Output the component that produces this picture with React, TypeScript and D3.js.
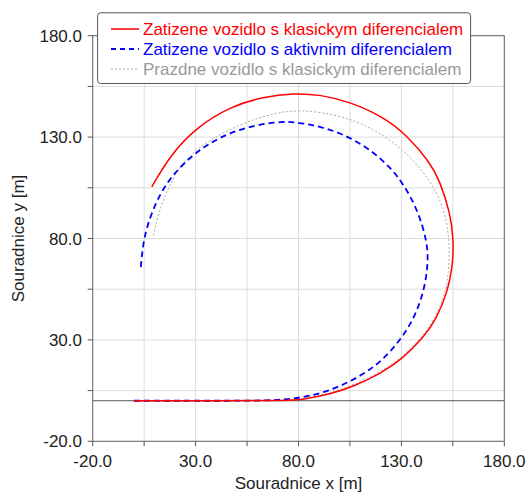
import React from "react";
import * as d3 from "d3";

const seriesNames = [
  "Zatizene vozidlo s klasickym diferencialem",
  "Zatizene vozidlo s aktivnim diferencialem",
  "Prazdne vozidlo s klasickym diferencialem",
];

// red: loaded vehicle, classic differential
const redX = [0, 40, 76, 82.3, 95.4, 106.9, 120.1, 130.4, 140.6, 146.8, 152.2, 154.9, 155.4, 153.8, 148.6, 143.7, 132.6, 121.2, 105, 90.6, 78, 62.9, 46.7, 30.7, 18.2, 8.7];
const redY = [0, 0, 0, 0.7, 3.2, 7.05, 13.55, 20.6, 31.0, 40.0, 52.9, 66.0, 79, 92.45, 108.6, 117.8, 131, 140, 147.4, 150.9, 151.7, 149.9, 145, 134.9, 121.9, 105.5];

// blue: loaded vehicle, active differential
const blueX = [0, 40, 70, 82.3, 93.7, 105, 114.7, 122.7, 131.2, 137.3, 141.5, 143.1, 142.3, 137.9, 130.7, 124.7, 116.3, 104.9, 92.3, 78, 72.6, 59.6, 46.6, 36.9, 27.8, 17.8, 11.1, 6.2, 4.3, 3.3];
const blueY = [0, 0, 0, 1.7, 4.4, 9.4, 15.1, 21.9, 32.2, 43.1, 56.2, 69.4, 79.2, 94.2, 107.4, 114.8, 122.8, 130.0, 135.0, 137.5, 137.6, 136.2, 132.1, 127.1, 120.6, 110.3, 99, 85.8, 75.9, 65.3];

// gray: empty vehicle, classic differential
const grayX = [0, 40, 76, 82.3, 95.2, 106.6, 119.7, 129.9, 140.0, 146.2, 151.6, 153.0, 153.6, 150.6, 144.6, 138.0, 127.9, 116.3, 100.2, 80.7, 67.8, 54.8, 42.2, 30.5, 21.8, 15.8, 11.9, 9.4];
const grayY = [0, 0, 0, 1.2, 3.9, 7.7, 14.2, 21.1, 31.4, 40.3, 53.1, 64.4, 79.2, 95.5, 107.3, 116.4, 126.1, 134.3, 140.9, 143.7, 141.7, 137.6, 131.5, 124.2, 115.2, 102.8, 92.4, 80.9];

const tickValues = [-20, 5, 30, 55, 80, 105, 130, 155, 180];
const labelValues = [-20, 30, 80, 130, 180];

const W = 528;
const H = 494;
const FONT = "'Liberation Sans', Arial, sans-serif";

export default function App() {
  const x = d3.scaleLinear().domain([-20, 180]).range([92.7, 504.3]);
  const y = d3.scaleLinear().domain([-20, 180]).range([441.3, 35.7]);

  const line = d3
    .line<[number, number]>()
    .x((d) => x(d[0]))
    .y((d) => y(d[1]))
    .curve(d3.curveBasis);

  const mk = (xs: number[], ys: number[]) => xs.map((v, i) => [v, ys[i]] as [number, number]);

  const series = [
    { pts: mk(redX, redY), color: "#ff0000", width: 1.5, dash: "none", text: "#ff0000" },
    { pts: mk(blueX, blueY), color: "#0000ff", width: 1.8, dash: "6,4", text: "#0000ff" },
    { pts: mk(grayX, grayY), color: "#aaaaaa", width: 1, dash: "2,2", text: "#999999" },
  ];

  const [x0, x1] = x.range();
  const [y0, y1] = y.range();

  return (
    <svg
      width={W}
      height={H}
      style={{ position: "absolute", left: 0, top: 0, background: "#fff" }}
      fontFamily={FONT}
    >
      {/* grid */}
      {tickValues.map((t) => (
        <line key={"gx" + t} x1={x(t)} x2={x(t)} y1={y1} y2={y0} stroke="#dcdcdc" strokeWidth={1} />
      ))}
      {tickValues.map((t) => (
        <line key={"gy" + t} x1={x0} x2={x1} y1={y(t)} y2={y(t)} stroke="#dcdcdc" strokeWidth={1} />
      ))}
      {/* zero line */}
      <line x1={x0} x2={x1} y1={y(0)} y2={y(0)} stroke="#555" strokeWidth={1} />
      {/* frame */}
      <rect x={x0} y={y1} width={x1 - x0} height={y0 - y1} fill="none" stroke="#666" strokeWidth={1} />
      {/* ticks */}
      {tickValues.map((t) => (
        <line key={"tx" + t} x1={x(t)} x2={x(t)} y1={y0} y2={y0 + 5} stroke="#555" strokeWidth={1} />
      ))}
      {tickValues.map((t) => (
        <line key={"ty" + t} x1={x0 - 5} x2={x0} y1={y(t)} y2={y(t)} stroke="#555" strokeWidth={1} />
      ))}
      {/* tick labels */}
      {labelValues.map((t) => (
        <text key={"lx" + t} x={x(t)} y={y0 + 26} textAnchor="middle" fontSize={17} fill="#222">
          {t.toFixed(1)}
        </text>
      ))}
      {labelValues.map((t) => (
        <text key={"ly" + t} x={82} y={y(t) + 6} textAnchor="end" fontSize={17} fill="#222">
          {t.toFixed(1)}
        </text>
      ))}
      {/* axis titles */}
      <text x={(x0 + x1) / 2} y={489} textAnchor="middle" fontSize={17} fill="#222">
        Souradnice x [m]
      </text>
      <text
        transform={`translate(24,${(y0 + y1) / 2}) rotate(-90)`}
        textAnchor="middle"
        fontSize={17}
        fill="#222"
      >
        Souradnice y [m]
      </text>
      {/* series */}
      {series
        .slice()
        .reverse()
        .map((s, i) => (
          <path
            key={"s" + i}
            d={line(s.pts) || ""}
            fill="none"
            stroke={s.color}
            strokeWidth={s.width}
            strokeDasharray={s.dash}
          />
        ))}
      {/* legend */}
      <rect x={97.6} y={12.8} width={373} height={70.7} rx={3} fill="#fff" stroke="#555" strokeWidth={1} />
      {series.map((s, i) => (
        <g key={"lg" + i}>
          <line
            x1={111}
            x2={139}
            y1={29 + i * 20}
            y2={29 + i * 20}
            stroke={s.color}
            strokeWidth={s.width}
            strokeDasharray={i === 1 ? "5,4" : s.dash}
          />
          <text x={143} y={35 + i * 20} fontSize={17} fill={s.text}>
            {seriesNames[i]}
          </text>
        </g>
      ))}
    </svg>
  );
}
